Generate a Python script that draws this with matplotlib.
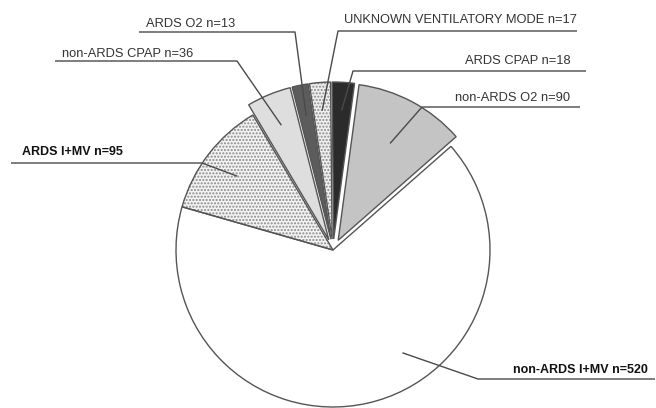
import numpy as np
import matplotlib.pyplot as plt
import matplotlib.patches as mpatches

plt.rcParams['font.family'] = ['Liberation Sans', 'DejaVu Sans']
plt.rcParams['hatch.linewidth'] = 1.0

# data, counter-clockwise from the top-right slice
labels = ['non-ARDS O2 n=90', 'ARDS CPAP n=18', 'UNKNOWN VENTILATORY MODE n=17',
          'ARDS O2 n=13', 'non-ARDS CPAP n=36', 'ARDS I+MV n=95', 'non-ARDS I+MV n=520']
counts = [90, 18, 17, 13, 36, 95, 520]

fills = ['#c4c4c4', '#2b2b2b', '#efefef', '#5c5c5c', '#dedede', '#f3f3f3', '#ffffff']
hatches = [None, None, '.....', None, None, '.....', None]
explode = [0.07, 0.07, 0.07, 0.07, 0.07, 0.0, 0.0]
bold = [False, False, False, False, False, True, True]

# label layout, pixels from the top-left corner
line_y = [107, 71, 31, 32, 61, 163, 379]
line_x0 = [422, 353, 338, 139, 55, 11, 478]
line_x1 = [580, 586, 577, 295, 237, 202, 655]
right_side = [True, True, True, False, False, False, True]
text_x = [570, 571, 577, 146, 62, 22, 648]
text_y = [101, 64, 23, 27, 57, 155, 373]
anchor_frac = [0.5, 0.5, 0.5, 0.5, 0.5, 0.5, 0.59]
anchor_r = [0.77, 0.89, 0.89, 0.87, 0.86, 0.77, 0.79]

W, H = 656, 408
cx, cy, R = 333, H - 250, 157

fig = plt.figure(figsize=(6.56, 4.08), dpi=100)
ax = fig.add_axes([0, 0, 1, 1])

wedges, _ = ax.pie(counts, explode=[e * R for e in explode], colors=fills,
                   startangle=41.3, counterclock=True, center=(cx, cy), radius=R,
                   wedgeprops=dict(edgecolor='#555555', linewidth=1.0))

for w, h in zip(wedges, hatches):
    if h:
        w.set_hatch(h)
        w.set_edgecolor('#8a8a8a')
        w.set_linewidth(0)
        ax.add_patch(mpatches.Wedge(w.center, w.r, w.theta1, w.theta2, fill=False,
                                    edgecolor='#555555', linewidth=1.0))

for i, w in enumerate(wedges):
    th = np.deg2rad(w.theta1 + anchor_frac[i] * (w.theta2 - w.theta1))
    axx = cx + anchor_r[i] * R * np.cos(th)
    ayy = cy + anchor_r[i] * R * np.sin(th)
    ly = H - line_y[i]
    if right_side[i]:
        xs = [line_x1[i], line_x0[i], axx]
        ha = 'right'
    else:
        xs = [line_x0[i], line_x1[i], axx]
        ha = 'left'
    ax.plot(xs, [ly, ly, ayy], color='#4a4a4a', lw=1.0, solid_capstyle='butt')
    ax.text(text_x[i], H - text_y[i], labels[i], ha=ha, va='baseline',
            fontsize=9 if bold[i] else 9.3,
            fontweight='bold' if bold[i] else 'normal',
            color='#111111' if bold[i] else '#333333')

ax.set_xlim(0, W)
ax.set_ylim(0, H)
ax.set_aspect('equal')
ax.axis('off')

fig.savefig('out.png', dpi=100, facecolor='white')
